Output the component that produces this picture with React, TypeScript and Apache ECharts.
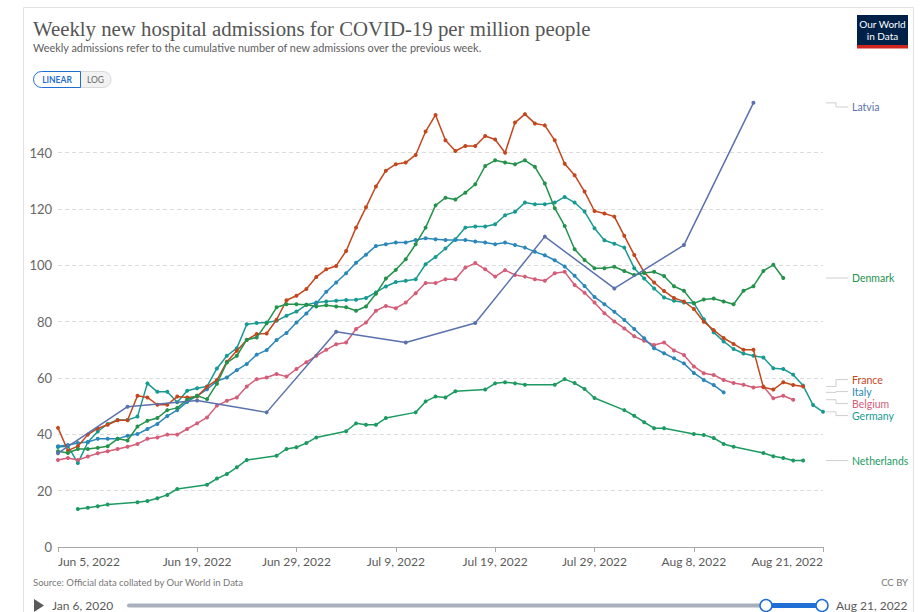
import React, { useEffect, useRef } from 'react';
import * as echarts from 'echarts';

const TITLE = 'Weekly new hospital admissions for COVID-19 per million people';
const SUBTITLE = 'Weekly admissions refer to the cumulative number of new admissions over the previous week.';
const SOURCE = 'Source: Official data collated by Our World in Data';

// x axis: day offsets from Jun 5, 2022
const X_MAX_DAY = 77;
const X_TICK_DAYS = [0, 14, 24, 34, 44, 54, 64, 77];
const X_TICK_LABELS = ['Jun 5, 2022', 'Jun 19, 2022', 'Jun 29, 2022', 'Jul 9, 2022', 'Jul 19, 2022', 'Jul 29, 2022', 'Aug 8, 2022', 'Aug 21, 2022'];
const Y_MAX = 158;
const Y_INTERVAL = 20;

const _ = null;

// values indexed by day offset (null = no report that day)
const latvia = [33.3, _, _, _, _, _, _, 49.8, _, _, _, _, _, _, 52.0, _, _, _, _, _, _, 47.8, _, _, _, _, _, _, 76.4, _, _, _, _, _, _, 72.6, _, _, _, _, _, _, 79.5, _, _, _, _, _, _, 110.2, _, _, _, _, _, _, 91.8, _, _, _, _, _, _, 107.2, _, _, _, _, _, _, 157.7];

const denmark = [34.0, 33.4, 34.8, 34.8, 35.2, 35.8, 38.4, 37.8, 42.8, 44.8,
  45.8, 48.6, 49.4, 52.3, 53.7, 52.5, 58.0, 65.5, 67.9, 73.6,
  74.4, 79.4, 85.1, 86.2, 86.2, 86.0, 85.4, 85.8, 85.4, 85.1,
  83.9, 85.4, 89.9, 95.3, 98.4, 102.2, 107.5, 113.4, 121.3, 124.0,
  123.4, 125.8, 128.8, 135.3, 137.3, 136.5, 135.9, 137.3, 135.0, 129.1,
  120.3, 114.0, 105.7, 101.9, 99.0, 99.0, 99.5, 98.0, 96.6, 97.3,
  97.7, 96.2, 92.6, 91.0, 86.5, 87.9, 88.2, 87.2, 86.2, 91.0,
  92.6, 98.0, 100.2, 95.5];

const france = [42.3, 34.2, 35.8, 39.9, 42.1, 43.4, 45.0, 45.0, 53.7, 53.1,
  50.5, 50.5, 53.4, 53.1, 53.4, 56.9, 59.3, 65.8, 69.7, 73.5,
  75.6, 75.8, 80.7, 87.6, 89.2, 91.6, 95.9, 98.6, 99.8, 105.1,
  113.4, 120.6, 128.0, 133.6, 135.9, 136.5, 139.2, 147.5, 153.4, 144.4,
  140.6, 142.4, 142.4, 145.9, 144.7, 140.0, 150.7, 153.7, 150.4, 149.7,
  144.4, 136.1, 132.0, 126.2, 119.3, 118.4, 117.3, 110.5, 103.7, 97.5,
  93.9, 90.9, 88.4, 87.2, 84.5, 80.0, 77.0, 74.2, 72.1, 70.0,
  70.0, 56.7, 55.9, 58.5, 57.5, 57.0];

const italy = [35.8, 36.2, 36.9, 37.3, 38.4, 38.4, 38.4, 39.5, 40.1, 41.9,
  43.7, 46.5, 48.6, 51.5, 53.7, 56.0, 58.9, 60.2, 62.8, 65.0,
  68.3, 69.9, 73.5, 76.0, 79.7, 82.9, 86.5, 90.6, 93.9, 97.2,
  100.9, 103.8, 106.9, 107.5, 108.1, 108.1, 109.0, 109.6, 109.3, 109.0,
  109.0, 109.0, 108.5, 108.1, 107.5, 108.1, 107.2, 106.3, 104.8, 103.6,
  101.8, 99.6, 96.3, 92.7, 88.8, 86.2, 83.5, 80.6, 77.4, 74.1,
  70.6, 68.8, 67.0, 65.2, 61.8, 59.3, 57.5, 54.9];

const belgium = [30.9, 31.6, 30.9, 32.1, 33.3, 34.0, 34.8, 35.6, 36.6, 38.4,
  38.9, 39.9, 39.9, 41.9, 43.9, 46.0, 50.2, 51.9, 53.1, 57.0,
  59.6, 60.2, 61.4, 60.5, 63.2, 65.6, 67.9, 70.0, 72.0, 72.6,
  77.4, 79.7, 83.9, 85.6, 84.8, 86.8, 90.1, 93.7, 93.7, 95.1,
  95.1, 99.2, 100.8, 98.6, 96.0, 98.3, 96.6, 96.0, 95.1, 94.5,
  97.2, 97.7, 93.0, 90.3, 86.8, 83.0, 80.1, 77.6, 74.8, 73.2,
  71.7, 72.6, 69.8, 68.2, 64.1, 61.7, 61.1, 59.3, 58.2, 57.6,
  56.6, 57.0, 52.8, 53.7, 52.3];

const germany = [35.5, 35.8, 29.8, 37.2, 41.0, 43.7, 45.1, 45.1, 46.3, 58.1,
  55.1, 55.1, 51.4, 55.5, 56.4, 57.0, 63.4, 67.9, 70.6, 79.1,
  79.5, 79.7, 80.3, 82.1, 83.6, 86.0, 86.8, 87.2, 87.4, 87.7,
  87.8, 88.4, 90.4, 92.5, 94.1, 94.5, 95.1, 100.4, 103.0, 106.0,
  109.3, 113.4, 113.8, 113.8, 114.6, 117.8, 119.0, 122.3, 121.7, 121.7,
  122.3, 124.3, 122.3, 119.1, 113.2, 108.9, 107.7, 106.3, 99.0, 95.3,
  91.8, 88.6, 87.4, 86.8, 86.6, 80.9, 76.2, 73.0, 70.3, 68.7,
  67.9, 67.3, 63.5, 63.2, 61.2, 57.3, 50.4, 48.0];

const netherlands = [_, _, 13.5, 13.9, 14.5, 15.1, _, _, 15.9, 16.3,
  17.3, 18.5, 20.6, _, _, 22.1, 24.3, 25.9, 28.3, 30.9,
  _, _, 32.4, 34.8, 35.4, 36.9, 38.9, _, _, 41.1,
  43.9, 43.4, 43.4, 45.8, _, _, 47.8, 51.7, 53.4, 53.1,
  55.3, _, _, 55.9, 58.1, 58.5, 58.1, 57.6, _, _,
  57.6, 59.6, 58.2, 56.1, 52.9, _, _, 48.6, 46.6, 44.3,
  42.2, 42.2, _, _, 40.1, 39.8, 38.7, 36.6, 35.6, _,
  _, 33.4, 32.2, 31.6, 30.7, 30.7];

const SERIES_NAMES = ['Latvia', 'Denmark', 'France', 'Italy', 'Belgium', 'Germany', 'Netherlands'];
const SERIES_VALUES = [latvia, denmark, france, italy, belgium, germany, netherlands];
const SERIES_COLORS = ['#5a71ad', '#24924b', '#c3461c', '#2b87ba', '#d45d78', '#189a93', '#1d9a62'];

const FONT = 'Lato';

export default function App() {
  const ref = useRef<HTMLDivElement>(null);

  useEffect(() => {
    if (!ref.current) return;
    const chart = echarts.init(ref.current, null, { renderer: 'svg' });

    const series = SERIES_NAMES.map((name, k) => ({
      name,
      type: 'line',
      data: SERIES_VALUES[k].map((v, i) => (v == null ? null : [i, v])).filter((p) => p !== null),
      symbol: 'circle',
      symbolSize: 4,
      showSymbol: true,
      lineStyle: { width: 1.5, color: SERIES_COLORS[k] },
      itemStyle: { color: SERIES_COLORS[k] },
      emphasis: { disabled: true },
      z: 10 - k,
    }));

    const gridTop = 102;
    const gridLeft = 58;
    const gridRight = 101;
    const gridBottom = 65;

    chart.setOption({
      animation: false,
      grid: { left: gridLeft, right: gridRight, top: gridTop, bottom: gridBottom, containLabel: false },
      xAxis: {
        type: 'value',
        min: 0,
        max: X_MAX_DAY,
        axisLine: { show: true, lineStyle: { color: '#a8a8a8', width: 1 } },
        axisTick: { show: true, customValues: X_TICK_DAYS, length: 5, lineStyle: { color: '#a8a8a8' } },
        axisLabel: {
          customValues: X_TICK_DAYS,
          formatter: (v: number) => {
            const idx = X_TICK_DAYS.indexOf(Math.round(v));
            return idx >= 0 ? X_TICK_LABELS[idx] : '';
          },
          alignMinLabel: 'left',
          alignMaxLabel: 'right',
          color: '#5b5b5b',
          fontFamily: FONT,
          fontSize: 12,
          margin: 8,
          showMinLabel: true,
          showMaxLabel: true,
        },
        splitLine: { show: false },
      },
      yAxis: {
        type: 'value',
        min: 0,
        max: Y_MAX,
        interval: Y_INTERVAL,
        axisLine: { show: false },
        axisTick: { show: false },
        axisLabel: {
          formatter: (v: number) => (v % Y_INTERVAL === 0 ? String(v) : ''),
          color: '#666',
          fontFamily: FONT,
          fontSize: 13,
          margin: 6,
        },
        splitLine: {
          show: true,
          showMinLine: false,
          showMaxLine: false,
          lineStyle: { color: '#dcdcdc', type: [4, 3], width: 1 },
        },
      },
      series,
    });

    // right-hand labels with connectors
    const rightEdge = 924 - gridRight;
    const ends = SERIES_NAMES.map((name, k) => {
      const vals = SERIES_VALUES[k];
      let li = vals.length - 1;
      while (li >= 0 && vals[li] == null) li--;
      const pt = chart.convertToPixel({ xAxisIndex: 0, yAxisIndex: 0 }, [li, vals[li] as number]);
      return { name, color: SERIES_COLORS[k], y: pt[1], ly: pt[1] };
    });
    const sorted = [...ends].sort((a, b) => a.y - b.y);
    const GAP = 12;
    type Grp = { items: typeof sorted; top: number };
    const groups: Grp[] = [];
    for (const it of sorted) {
      groups.push({ items: [it], top: it.y });
      while (groups.length > 1) {
        const g2 = groups[groups.length - 1];
        const g1 = groups[groups.length - 2];
        if (g1.top + g1.items.length * GAP > g2.top) {
          const items = [...g1.items, ...g2.items];
          const mean = items.reduce((s, x) => s + x.y, 0) / items.length;
          groups.splice(groups.length - 2, 2, { items, top: mean - ((items.length - 1) * GAP) / 2 });
        } else break;
      }
    }
    const minY = gridTop + 5;
    groups.forEach((g) => {
      if (g.top < minY) g.top = minY;
      g.items.forEach((it, i) => (it.ly = g.top + i * GAP));
    });

    const labelGraphics: any[] = [];
    ends.forEach((e) => {
      const x0 = rightEdge + 3;
      const xm = x0 + 10;
      const x1 = x0 + 22;
      const pts = Math.abs(e.ly - e.y) < 0.5
        ? [[x0, e.y], [x1, e.y]]
        : [[x0, e.y], [xm, e.y], [xm, e.ly], [x1, e.ly]];
      labelGraphics.push({
        type: 'polyline', silent: true,
        shape: { points: pts },
        style: { stroke: '#cfcfcf', lineWidth: 1, fill: 'none' },
      });
      labelGraphics.push({
        type: 'text', silent: true,
        x: x1 + 4, y: e.ly,
        style: { text: e.name, fill: e.color, fontFamily: FONT, fontSize: 10.5, verticalAlign: 'middle', align: 'left' },
      });
    });

    const blue = '#1f6fd6';
    const staticGraphics: any[] = [
      { type: 'rect', silent: true, z: -10, shape: { x: 23.5, y: 7.5, width: 890, height: 640 }, style: { fill: 'none', stroke: '#e2e2e2', lineWidth: 1 } },
      { type: 'text', silent: true, x: 33, y: 28, style: { text: TITLE, fill: '#555', fontFamily: '"Liberation Serif", serif', fontSize: 20.8, verticalAlign: 'middle' } },
      { type: 'text', silent: true, x: 33, y: 47, style: { text: SUBTITLE, fill: '#5e5e5e', fontFamily: FONT, fontSize: 10.9, verticalAlign: 'middle' } },
      // logo
      { type: 'rect', silent: true, shape: { x: 857, y: 15, width: 51, height: 33 }, style: { fill: '#002147' } },
      { type: 'rect', silent: true, shape: { x: 857, y: 45, width: 51, height: 3.5 }, style: { fill: '#ce261e' } },
      { type: 'text', silent: true, x: 882.5, y: 24, style: { text: 'Our World', fill: '#fff', fontFamily: FONT, fontSize: 10, align: 'center', verticalAlign: 'middle' } },
      { type: 'text', silent: true, x: 882.5, y: 36, style: { text: 'in Data', fill: '#fff', fontFamily: FONT, fontSize: 10, align: 'center', verticalAlign: 'middle' } },
      // LINEAR / LOG toggle
      { type: 'rect', silent: true, shape: { x: 80, y: 71.5, width: 31, height: 16, r: [0, 8, 8, 0] }, style: { fill: '#f2f2f2', stroke: '#d8d8d8', lineWidth: 1 } },
      { type: 'rect', silent: true, shape: { x: 33.5, y: 71.5, width: 47, height: 16, r: [8, 0, 0, 8] }, style: { fill: '#fff', stroke: blue, lineWidth: 1 } },
      { type: 'text', silent: true, x: 57, y: 79.5, style: { text: 'LINEAR', fill: blue, fontFamily: FONT, fontSize: 8.5, fontWeight: 'bold', align: 'center', verticalAlign: 'middle' } },
      { type: 'text', silent: true, x: 95.5, y: 79.5, style: { text: 'LOG', fill: '#666', fontFamily: FONT, fontSize: 8.5, align: 'center', verticalAlign: 'middle' } },
      // footer
      { type: 'text', silent: true, x: 33, y: 582, style: { text: SOURCE, fill: '#777', fontFamily: FONT, fontSize: 9.5, verticalAlign: 'middle' } },
      { type: 'text', silent: true, x: 908, y: 582, style: { text: 'CC BY', fill: '#777', fontFamily: FONT, fontSize: 9.5, align: 'right', verticalAlign: 'middle' } },
      // timeline
      { type: 'polygon', silent: true, shape: { points: [[34, 599], [44, 605.5], [34, 612]] }, style: { fill: '#5a5a5a' } },
      { type: 'text', silent: true, x: 52, y: 605.5, style: { text: 'Jan 6, 2020', fill: '#5a5a5a', fontFamily: FONT, fontSize: 12, verticalAlign: 'middle' } },
      { type: 'rect', silent: true, shape: { x: 127, y: 603.5, width: 695, height: 4, r: 2 }, style: { fill: '#aab0bb' } },
      { type: 'rect', silent: true, shape: { x: 766, y: 603, width: 56, height: 5 }, style: { fill: blue } },
      { type: 'circle', silent: true, shape: { cx: 766, cy: 605.5, r: 6 }, style: { fill: '#fff', stroke: blue, lineWidth: 1.5 } },
      { type: 'circle', silent: true, shape: { cx: 822, cy: 605.5, r: 6 }, style: { fill: '#fff', stroke: blue, lineWidth: 1.5 } },
      { type: 'text', silent: true, x: 836, y: 605.5, style: { text: 'Aug 21, 2022', fill: '#5a5a5a', fontFamily: FONT, fontSize: 12, verticalAlign: 'middle' } },
    ];

    chart.setOption({ graphic: [...staticGraphics, ...labelGraphics] });

    return () => chart.dispose();
  }, []);

  return <div ref={ref} style={{ position: 'absolute', left: 0, top: 0, width: 924, height: 612, background: '#fff' }} />;
}
